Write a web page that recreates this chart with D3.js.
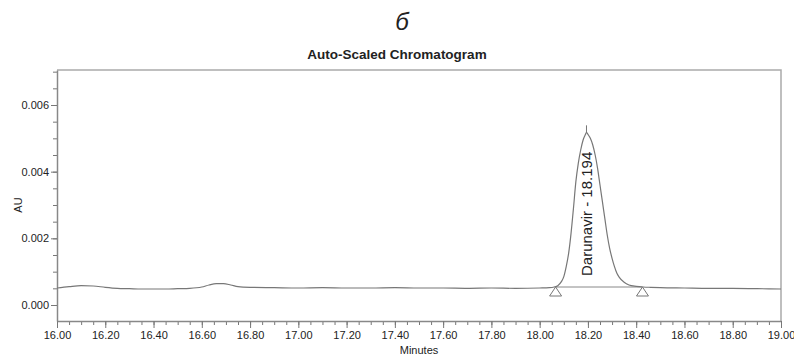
<!DOCTYPE html>
<html>
<head>
<meta charset="utf-8">
<script src="https://cdn.jsdelivr.net/npm/d3@7"></script>
<style>
  body { margin: 0; background: #fff; }
  text { font-family: "Liberation Sans", Arial, sans-serif; fill: #222; }
</style>
</head>
<body>
<div id="chart"></div>
<script>
// trace (minutes, AU)
var times = [16.00, 16.05, 16.10, 16.15, 16.20, 16.25, 16.30, 16.35, 16.40, 16.45, 16.50, 16.55,
  16.60, 16.63, 16.66, 16.69, 16.72, 16.75, 16.80, 16.90, 17.00, 17.10, 17.20, 17.30, 17.40,
  17.50, 17.60, 17.70, 17.80, 17.90, 18.00, 18.04, 18.06, 18.075, 18.09, 18.10, 18.11, 18.12,
  18.13, 18.14, 18.15, 18.16, 18.17, 18.18, 18.19, 18.194, 18.20, 18.21, 18.22, 18.23, 18.24,
  18.25, 18.26, 18.27, 18.28, 18.29, 18.30, 18.31, 18.32, 18.33, 18.35, 18.37, 18.40, 18.43,
  18.46, 18.50, 18.60, 18.70, 18.80, 18.90, 19.00];
var au = [0.00051, 0.00055, 0.00058, 0.00057, 0.00053, 0.00050, 0.00049, 0.00048, 0.00048, 0.00048, 0.00049, 0.00050,
  0.00054, 0.00060, 0.00064, 0.00064, 0.00060, 0.00055, 0.00053, 0.00052, 0.00051, 0.00052, 0.00051, 0.00051, 0.00052,
  0.00051, 0.00051, 0.00050, 0.00051, 0.00050, 0.00051, 0.00052, 0.00054, 0.00058, 0.00070, 0.00085, 0.00115, 0.00155,
  0.00215, 0.00290, 0.00370, 0.00425, 0.00465, 0.00495, 0.00512, 0.00518, 0.00512, 0.00500, 0.00480, 0.00450, 0.00410,
  0.00360, 0.00310, 0.00260, 0.00210, 0.00170, 0.00140, 0.00115, 0.00095, 0.00083, 0.00068, 0.00060, 0.00056, 0.00054,
  0.00053, 0.00052, 0.00051, 0.00050, 0.00050, 0.00049, 0.00048];

// integration marks
var peakName = "Darunavir";
var peakRT = 18.194;
var peakTop = 0.00518;
var peakStart = [18.066, 0.00054];
var peakEnd = [18.426, 0.00054];

var xTicks = [16.0, 16.2, 16.4, 16.6, 16.8, 17.0, 17.2, 17.4, 17.6, 17.8, 18.0, 18.2, 18.4, 18.6, 18.8, 19.0];
var yTicks = [0.000, 0.002, 0.004, 0.006];

var margin = {top: 70, right: 13, bottom: 37, left: 57},
    width = 794 - margin.left - margin.right,
    height = 358 - margin.top - margin.bottom;

var svg = d3.select("#chart")
  .append("svg")
    .attr("width", 794)
    .attr("height", 358);

var g = svg.append("g")
    .attr("transform", "translate(" + margin.left + "," + margin.top + ")");

var x = d3.scaleLinear().domain([16.0, 19.0]).range([0, width]);
var y = d3.scaleLinear().domain([-0.00048, 0.00705]).range([height, 0]);

// titles
svg.append("text")
  .attr("x", 402).attr("y", 30)
  .style("text-anchor", "middle")
  .style("font-style", "italic")
  .style("font-size", "24px")
  .text("б");

svg.append("text")
  .attr("x", 397).attr("y", 59)
  .style("text-anchor", "middle")
  .style("font-weight", "bold")
  .style("font-size", "13.5px")
  .text("Auto-Scaled Chromatogram");

// frame (top and right)
g.append("path")
  .attr("d", "M0,0H" + width + "V" + height)
  .attr("fill", "none")
  .attr("stroke", "#aaa")
  .attr("stroke-width", 1.5);

// minor ticks
var xMinor = d3.range(0, 61).map(function(i) { return 16 + i * 0.05; });
var yMinor = d3.range(0, 15).map(function(i) { return i * 0.0005; });

g.append("g")
  .attr("transform", "translate(0," + height + ")")
  .call(d3.axisBottom(x).tickValues(xMinor).tickSize(4).tickFormat(""))
  .call(function(a) { a.select(".domain").remove(); a.selectAll("line").attr("stroke", "#777"); });

g.append("g")
  .call(d3.axisLeft(y).tickValues(yMinor).tickSize(4).tickFormat(""))
  .call(function(a) { a.select(".domain").remove(); a.selectAll("line").attr("stroke", "#777"); });

// X axis
var xAxis = g.append("g")
  .attr("transform", "translate(0," + height + ")")
  .call(d3.axisBottom(x).tickValues(xTicks).tickSize(7).tickPadding(3).tickFormat(d3.format(".2f")).tickSizeOuter(0));
xAxis.select(".domain").attr("stroke", "#888").attr("stroke-width", 1.5);
xAxis.selectAll("line").attr("stroke", "#777");
xAxis.selectAll("text").style("font-size", "11px").style("fill", "#222");

// Y axis
var yAxis = g.append("g")
  .call(d3.axisLeft(y).tickValues(yTicks).tickSize(6).tickPadding(2).tickFormat(d3.format(".3f")).tickSizeOuter(0));
yAxis.select(".domain").attr("stroke", "#888").attr("stroke-width", 1.5);
yAxis.selectAll("line").attr("stroke", "#777");
yAxis.selectAll("text").style("font-size", "11px").style("fill", "#222");

// axis labels
svg.append("text")
  .attr("transform", "translate(22," + (margin.top + y(0.003)) + ") rotate(-90)")
  .style("text-anchor", "middle")
  .style("font-size", "11px")
  .text("AU");

svg.append("text")
  .attr("x", margin.left + width / 2).attr("y", 354)
  .style("text-anchor", "middle")
  .style("font-size", "11px")
  .text("Minutes");

// baseline of the integrated peak
g.append("line")
  .attr("x1", x(peakStart[0])).attr("y1", y(peakStart[1]))
  .attr("x2", x(peakEnd[0])).attr("y2", y(peakEnd[1]))
  .attr("stroke", "#888").attr("stroke-width", 1);

// trace
var line = d3.line()
  .x(function(d, i) { return x(times[i]); })
  .y(function(d) { return y(d); })
  .curve(d3.curveMonotoneX);

g.append("path")
  .datum(au)
  .attr("d", line)
  .attr("fill", "none")
  .attr("stroke", "#777")
  .attr("stroke-width", 1.2);

// apex marker
g.append("line")
  .attr("x1", x(peakRT)).attr("x2", x(peakRT))
  .attr("y1", y(peakTop) - 7).attr("y2", y(peakTop))
  .attr("stroke", "#777").attr("stroke-width", 1);

// start/end triangles
[peakStart, peakEnd].forEach(function(p) {
  var cx = x(p[0]), cy = y(p[1]);
  g.append("path")
    .attr("d", "M" + cx + "," + cy + "L" + (cx - 6) + "," + (cy + 9) + "L" + (cx + 6) + "," + (cy + 9) + "Z")
    .attr("fill", "#fff")
    .attr("stroke", "#777")
    .attr("stroke-width", 1);
});

// peak label
g.append("text")
  .attr("transform", "translate(" + (x(peakRT) + 6) + "," + (y(peakStart[1]) - 11) + ") rotate(-90)")
  .style("font-size", "15px")
  .text(peakName + " - " + peakRT.toFixed(3));
</script>
</body>
</html>
